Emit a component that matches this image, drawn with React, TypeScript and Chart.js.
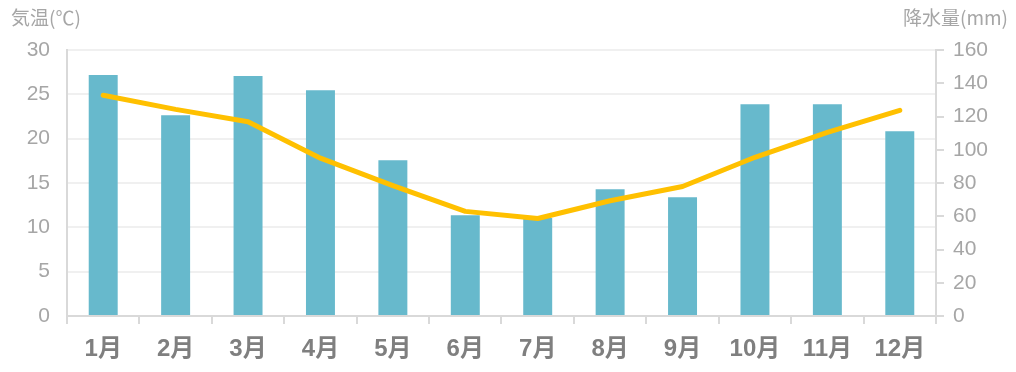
import React, { useEffect, useRef } from "react";
import { Chart, registerables } from "chart.js";

Chart.register(...registerables);

const months = ["1月", "2月", "3月", "4月", "5月", "6月", "7月", "8月", "9月", "10月", "11月", "12月"];
const temperature = [24.9, 23.3, 21.9, 17.8, 14.7, 11.8, 11.0, 13.0, 14.6, 17.9, 20.7, 23.2];
const precipitation = [144.9, 120.8, 144.3, 135.8, 93.7, 60.6, 59.0, 76.3, 71.4, 127.4, 127.4, 111.2];
const leftTitle = "気温(℃)";
const rightTitle = "降水量(mm)";

const FONT = '"Liberation Sans", Arial, "Noto Sans CJK JP", sans-serif';
const CJK_FONT = '"Noto Sans CJK JP", "Liberation Sans", sans-serif';

const titlePlugin = {
  id: "axisTitles",
  afterDraw(chart: any) {
    const ctx = chart.ctx;
    ctx.save();
    ctx.font = `19px ${CJK_FONT}`;
    ctx.fillStyle = "#a6a6a6";
    ctx.textBaseline = "middle";
    ctx.textAlign = "left";
    ctx.fillText(leftTitle, 11, 18);
    ctx.textAlign = "right";
    ctx.fillText(rightTitle, 1008, 18);
    ctx.restore();
  },
};

export default function App() {
  const ref = useRef<HTMLCanvasElement | null>(null);

  useEffect(() => {
    if (!ref.current) return;
    const chart = new Chart(ref.current, {
      type: "bar",
      data: {
        labels: months,
        datasets: [
          {
            type: "line",
            label: "気温",
            data: temperature,
            yAxisID: "yTemp",
            borderColor: "#ffc000",
            backgroundColor: "#ffc000",
            borderWidth: 5,
            pointRadius: 0,
            tension: 0,
            borderCapStyle: "round",
            borderJoinStyle: "round",
            order: 0,
          } as any,
          {
            type: "bar",
            label: "降水量",
            data: precipitation,
            yAxisID: "yRain",
            backgroundColor: "#67b9cc",
            barPercentage: 0.4,
            categoryPercentage: 1,
            order: 1,
          } as any,
        ],
      },
      options: {
        animation: false,
        responsive: false,
        maintainAspectRatio: false,
        layout: { padding: { top: 50, left: 0, right: 0, bottom: 0 } },
        plugins: {
          legend: { display: false },
          tooltip: { enabled: false },
          title: { display: false },
        },
        scales: {
          x: {
            position: "bottom",
            offset: true,
            grid: {
              offset: true,
              drawOnChartArea: false,
              drawTicks: true,
              tickLength: 8,
              color: "#d9d9d9",
              lineWidth: 2,
            },
            border: { display: true, color: "#d9d9d9", width: 2 },
            ticks: {
              color: "#7f7f7f",
              font: { family: FONT, size: 24, weight: "bold" },
              padding: 11,
              maxRotation: 0,
              autoSkip: false,
            },
            afterFit(scale: any) {
              scale.height = 56;
            },
          },
          yTemp: {
            position: "left",
            min: 0,
            max: 30,
            ticks: {
              stepSize: 5,
              color: "#a6a6a6",
              font: { family: FONT, size: 21 },
              padding: 17,
            },
            grid: {
              drawOnChartArea: true,
              drawTicks: false,
              color: "#f0f0f0",
              lineWidth: 2,
            },
            border: { display: true, color: "#d9d9d9", width: 2 },
            afterFit(scale: any) {
              scale.width = 67;
            },
          },
          yRain: {
            position: "right",
            min: 0,
            max: 160,
            ticks: {
              stepSize: 20,
              color: "#a6a6a6",
              font: { family: FONT, size: 21 },
              padding: 9,
            },
            grid: {
              drawOnChartArea: false,
              drawTicks: true,
              tickLength: 8,
              color: "#d9d9d9",
              lineWidth: 2,
            },
            border: { display: true, color: "#d9d9d9", width: 2 },
            afterFit(scale: any) {
              scale.width = 80;
            },
          },
        },
      } as any,
      plugins: [titlePlugin],
    });
    return () => chart.destroy();
  }, []);

  return (
    <div style={{ position: "fixed", left: 0, top: 0, width: 1016, height: 372, background: "#fff" }}>
      <canvas ref={ref} width={1016} height={372} style={{ display: "block", width: 1016, height: 372 }} />
    </div>
  );
}
